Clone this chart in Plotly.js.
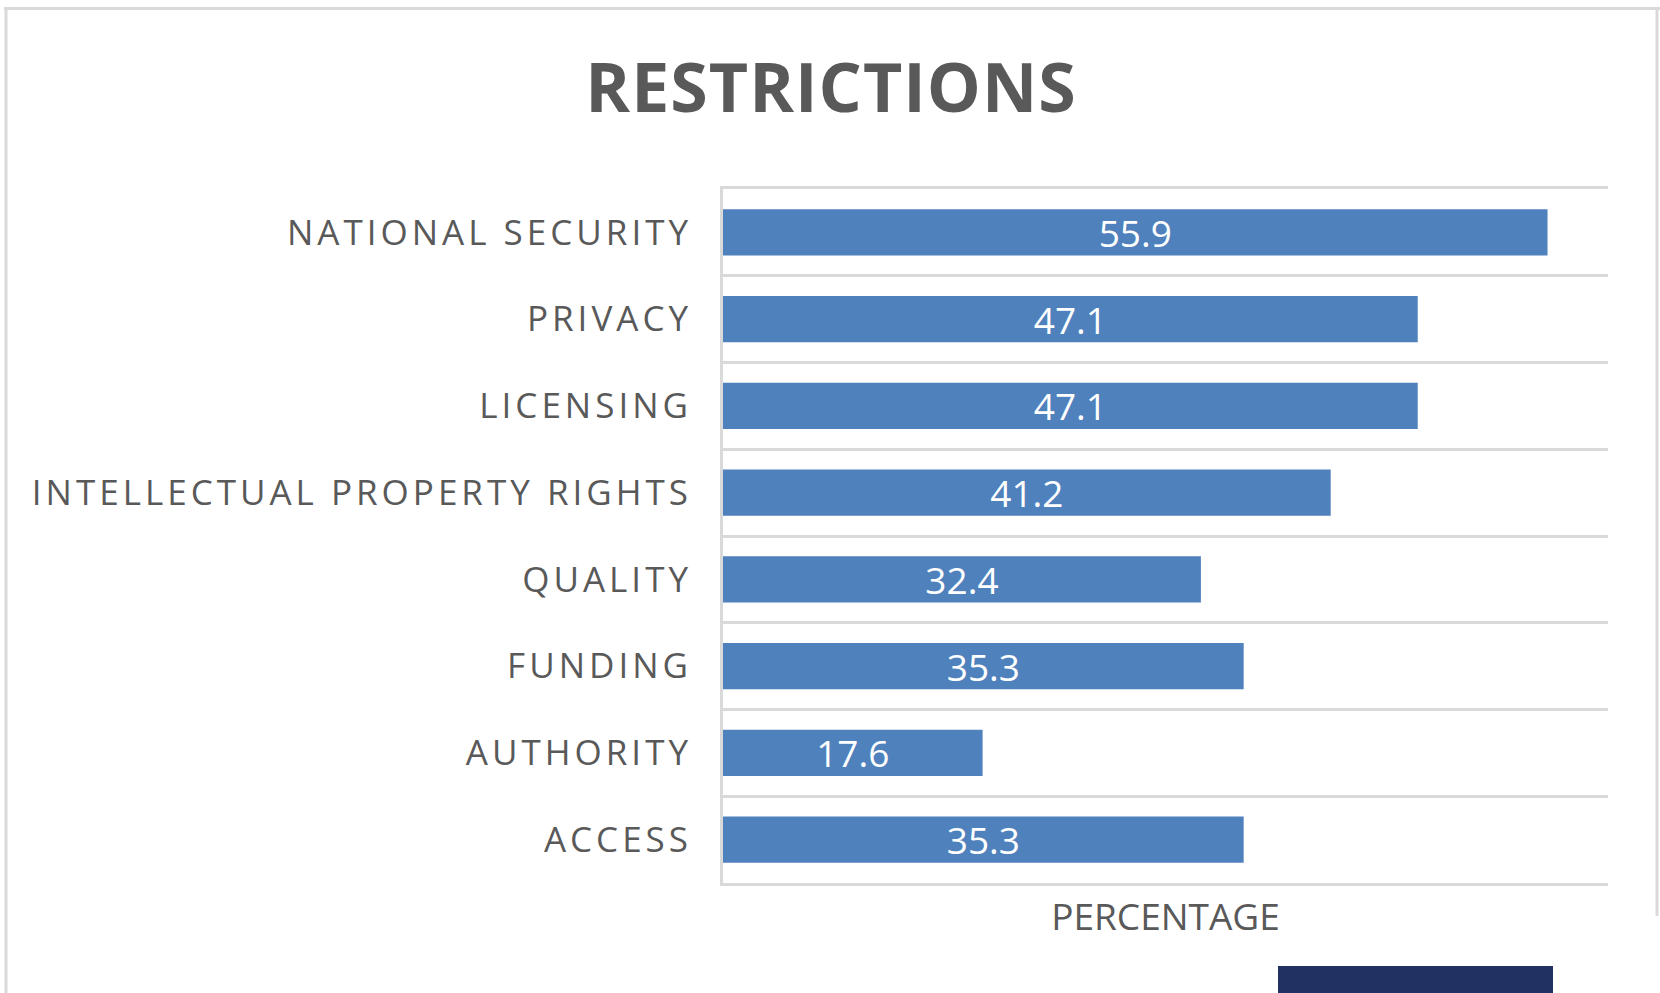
<!DOCTYPE html>
<html>
<head>
<meta charset="utf-8">
<script src="https://cdn.plot.ly/plotly-3.0.1.min.js"></script>
<style>
  html, body { margin: 0; padding: 0; background: #ffffff; }
  #chart { width: 1660px; height: 993px; }
  .ytick text { letter-spacing: 4px; }
  .gtitle { letter-spacing: 1px; }
</style>
</head>
<body>
<div id="chart"></div>
<script>
// Data (top to bottom as shown)
const categories = [
  "NATIONAL SECURITY",
  "PRIVACY",
  "LICENSING",
  "INTELLECTUAL PROPERTY RIGHTS",
  "QUALITY",
  "FUNDING",
  "AUTHORITY",
  "ACCESS"
];
const percentages = [55.9, 47.1, 47.1, 41.2, 32.4, 35.3, 17.6, 35.3];
const chartTitle = "RESTRICTIONS";
const xTitle = "PERCENTAGE";

// Layout geometry (pixels)
const W = 1660, H = 993;
const ML = 723, MR = 52, MT = 189, MB = 110;
const PW = W - ML - MR, PH = H - MT - MB;
const px = x => (x - ML) / PW;
const py = y => 1 - (y - MT) / PH;

const grey = "#d9d9d9";
const textGrey = "#595959";

const trace = {
  type: "bar",
  orientation: "h",
  y: categories,
  x: percentages,
  text: percentages.map(v => v.toFixed(1)),
  texttemplate: "%{text}",
  textposition: "inside",
  insidetextanchor: "middle",
  constraintext: "none",
  textangle: 0,
  insidetextfont: { family: "Open Sans", size: 37, color: "#ffffff" },
  marker: { color: "#4f81bd", line: { width: 0 } },
  hoverinfo: "skip"
};

const shapes = [
  // outer frame (top, left, right)
  { type: "line", xref: "paper", yref: "paper", x0: px(4), x1: px(1660), y0: py(8.5), y1: py(8.5), line: { color: grey, width: 3 } },
  { type: "line", xref: "paper", yref: "paper", x0: px(6), x1: px(6), y0: py(8), y1: py(993), line: { color: grey, width: 3 } },
  { type: "line", xref: "paper", yref: "paper", x0: px(1657), x1: px(1657), y0: py(8), y1: py(916), line: { color: grey, width: 3 } },
  // dark block at bottom
  { type: "rect", xref: "paper", yref: "paper", x0: px(1278), x1: px(1553), y0: py(966), y1: py(994), fillcolor: "#213262", line: { width: 0 } }
];

const layout = {
  width: W, height: H,
  margin: { l: ML, r: MR, t: MT, b: MB, pad: 0 },
  paper_bgcolor: "#ffffff",
  plot_bgcolor: "#ffffff",
  showlegend: false,
  bargap: 0.464,
  title: {
    text: chartTitle,
    font: { family: "Open Sans", size: 68, color: textGrey, weight: 700 },
    xref: "container", x: 831 / W, xanchor: "center",
    yref: "container", y: 1 - 88 / H, yanchor: "middle"
  },
  xaxis: {
    range: [0, 60],
    showgrid: false,
    zeroline: false,
    showticklabels: false,
    ticks: "",
    showline: true,
    mirror: true,
    linecolor: grey,
    linewidth: 3,
    title: {
      text: xTitle,
      font: { family: "Open Sans", size: 37, color: textGrey },
      standoff: 20
    }
  },
  yaxis: {
    type: "category",
    autorange: "reversed",
    tickson: "boundaries",
    showgrid: true,
    gridcolor: grey,
    gridwidth: 3,
    ticks: "",
    showline: true,
    linecolor: grey,
    linewidth: 3,
    ticklabelstandoff: 21,
    tickfont: { family: "Open Sans", size: 35, color: textGrey }
  },
  shapes: shapes
};

Plotly.newPlot("chart", [trace], layout, { displayModeBar: false, staticPlot: true });
</script>
</body>
</html>
